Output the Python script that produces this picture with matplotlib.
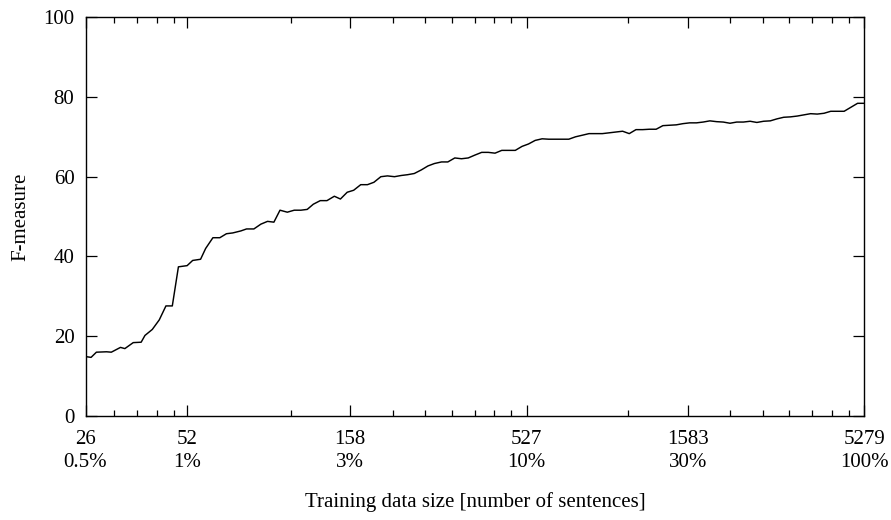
import matplotlib
matplotlib.use("Agg")
import matplotlib.pyplot as plt
from matplotlib.ticker import FixedLocator, NullFormatter

# training set sizes (sentences), log-spaced from 0.5% to 100% of the corpus
sizes = [26, 27, 28, 30, 31, 33, 34, 36, 38, 39, 41, 43, 45, 47, 49, 52, 54, 57,
         59, 62, 65, 68, 71, 75, 78, 82, 86, 90, 94, 98, 103, 108, 113, 118, 123,
         129, 135, 142, 148, 155, 162, 170, 178, 186, 195, 204, 214, 224, 234,
         245, 257, 269, 281, 295, 308, 323, 338, 354, 370, 388, 406, 425, 445,
         466, 488, 511, 534, 559, 586, 613, 642, 672, 703, 736, 771, 807, 845,
         884, 926, 969, 1015, 1062, 1112, 1164, 1219, 1276, 1336, 1398, 1464,
         1532, 1604, 1680, 1758, 1841, 1927, 2017, 2112, 2211, 2314, 2423, 2537,
         2656, 2780, 2910, 3047, 3190, 3339, 3496, 3660, 3831, 4011, 4199, 4395,
         4601, 4817, 5043, 5279]

fmeasure = [14.9, 14.7, 16.0, 16.1, 16.0, 17.2, 16.9, 18.4, 18.5, 20.2, 21.7,
            24.1, 27.6, 27.6, 37.4, 37.7, 39.0, 39.3, 42.0, 44.7, 44.7, 45.7,
            45.9, 46.4, 46.9, 46.9, 48.1, 48.8, 48.6, 51.6, 51.1, 51.6, 51.6,
            51.8, 53.1, 54.0, 54.0, 55.1, 54.4, 56.1, 56.6, 58.0, 58.0, 58.6,
            60.0, 60.2, 60.0, 60.3, 60.5, 60.8, 61.7, 62.7, 63.3, 63.7, 63.7,
            64.7, 64.5, 64.7, 65.4, 66.1, 66.1, 65.9, 66.6, 66.6, 66.6, 67.6,
            68.2, 69.1, 69.5, 69.4, 69.4, 69.4, 69.4, 70.0, 70.4, 70.8, 70.8,
            70.8, 71.0, 71.2, 71.4, 70.8, 71.8, 71.8, 71.9, 71.9, 72.8, 72.9,
            73.0, 73.3, 73.5, 73.5, 73.7, 74.0, 73.8, 73.7, 73.4, 73.7, 73.7,
            73.9, 73.6, 73.9, 74.0, 74.5, 74.9, 75.0, 75.2, 75.5, 75.8, 75.7,
            75.9, 76.4, 76.4, 76.4, 77.4, 78.4, 78.4]

total = 5279
major_n = [26, 52, 158, 527, 1583, 5279]
major_labels = ["26\n0.5%", "52\n1%", "158\n3%", "527\n10%", "1583\n30%", "5279\n100%"]
minor_pct = [0.6, 0.7, 0.8, 0.9, 2, 4, 5, 6, 7, 8, 9, 20, 40, 50, 60, 70, 80, 90]
y_ticks = [0, 20, 40, 60, 80, 100]

plt.rcParams["font.family"] = ["Liberation Serif", "DejaVu Serif"]
FS = 15

fig = plt.figure(figsize=(8.91, 5.20), dpi=100)
ax = fig.add_axes([0.096, 0.2, 0.874, 0.767])

ax.plot(sizes, fmeasure, color="black", lw=1.05)

ax.set_xscale("log")
ax.set_xlim(26, 5279)
ax.set_ylim(0, 100)

ax.xaxis.set_major_locator(FixedLocator(major_n))
ax.set_xticklabels(major_labels)
ax.xaxis.set_minor_locator(FixedLocator([total * p / 100 for p in minor_pct]))
ax.xaxis.set_minor_formatter(NullFormatter())
ax.set_yticks(y_ticks)

ax.tick_params(which="both", direction="in", top=True, right=True,
               labelsize=FS, width=0.9, color="black")
ax.tick_params(which="major", length=7.7)
ax.tick_params(which="minor", length=4.3)
ax.tick_params(axis="y", pad=8)
ax.tick_params(axis="x", pad=10)
for lbl in ax.get_xticklabels():
    lbl.set_linespacing(1.3)

for s in ax.spines.values():
    s.set_linewidth(1.0)

ax.set_xlabel("Training data size [number of sentences]", fontsize=FS)
ax.set_ylabel("F-measure", fontsize=FS)
ax.xaxis.set_label_coords(0.5, -0.19)
ax.yaxis.set_label_coords(-0.071, 0.5)

fig.savefig("out.png", dpi=100)
